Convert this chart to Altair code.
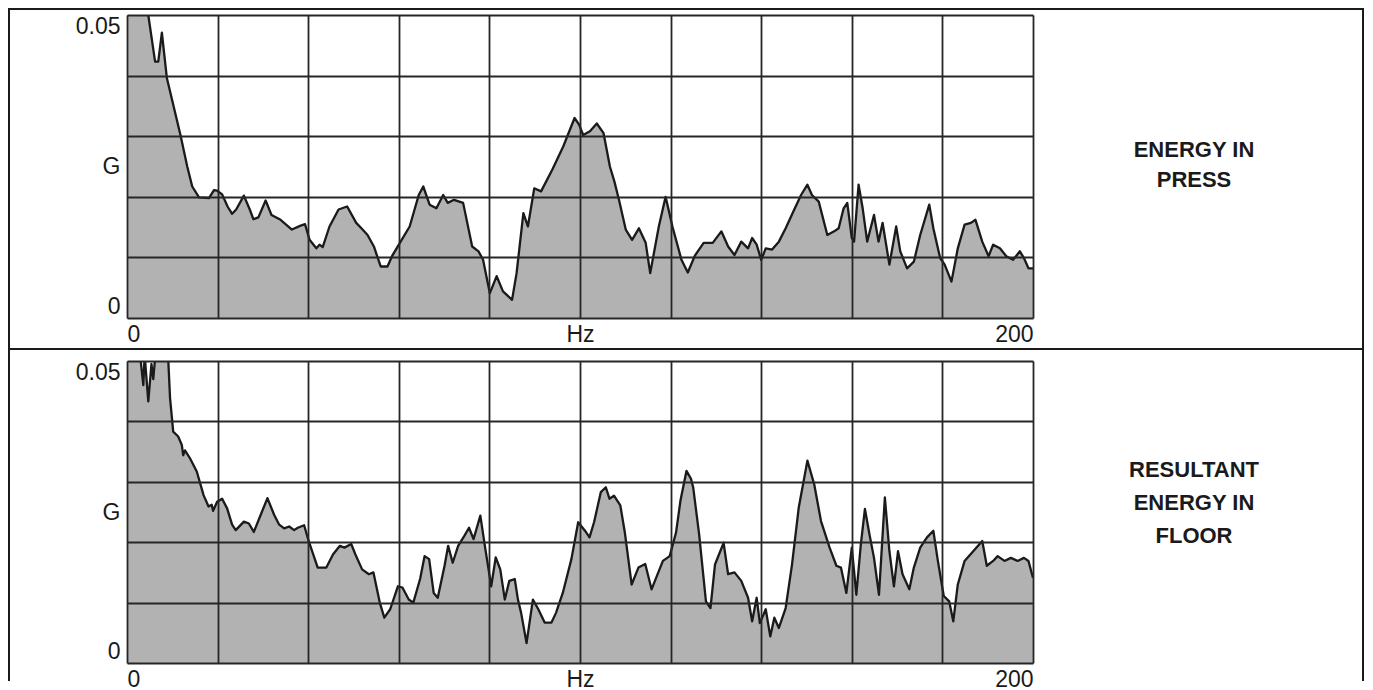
import altair as alt
import pandas as pd

# ---------------- data ----------------
hz_press = [0, 2, 4, 4.7, 5.5, 6.2, 6.9, 7.7, 8.4, 8.8, 10.3, 11.8, 13.3, 14.4, 15.9, 18.1,
            19.2, 19.9, 21.0, 22.2, 23.2, 24.1, 25.8, 27.1, 27.9, 29.0, 30.6, 31.9, 33.9,
            36.4, 38.2, 39.3, 40.3, 41.8, 42.5, 43.2, 44.7, 46.7, 48.6, 50.6, 52.0, 53.1,
            54.5, 56.0, 57.5, 58.5, 60.4, 62.4, 64.4, 65.4, 66.8, 68.3, 69.8, 70.8, 72.2,
            74.2, 76.2, 77.6, 78.6, 80.1, 81.6, 83.0, 85.0, 86.0, 87.5, 88.5, 89.9, 91.4,
            93.9, 96.3, 98.8, 99.8, 100.7, 102.2, 103.7, 105.2, 106.6, 107.6, 108.6, 110.1,
            111.5, 113.0, 114.5, 115.5, 117.4, 118.9, 120.4, 122.4, 123.8, 125.3, 126.0,
            127.3, 129.3, 131.2, 132.7, 134.1, 135.6, 137.1, 138.0, 139.0, 140.0, 141.0,
            142.4, 143.9, 145.4, 147.3, 148.8, 150.2, 151.2, 152.7, 154.6, 156.1, 157.1,
            158.2, 159.0, 160.0, 160.5, 161.5, 162.4, 163.4, 164.9, 165.9, 166.8, 168.3,
            169.8, 170.7, 172.2, 173.7, 175.1, 177.1, 178.0, 179.5, 180.5, 182.0, 183.4,
            184.9, 186.3, 187.3, 188.8, 190.2, 191.2, 192.7, 194.1, 195.6, 197.1, 198.0,
            199.0, 200.0]
g_press = [0.075, 0.066, 0.056, 0.050, 0.0459, 0.0423, 0.0423, 0.0471, 0.0423, 0.0396, 0.0349,
           0.0302, 0.0250, 0.0217, 0.0199, 0.0198, 0.0211, 0.0210, 0.0204, 0.0184, 0.0172,
           0.0179, 0.0202, 0.0179, 0.0163, 0.0166, 0.0194, 0.0170, 0.0162, 0.0146, 0.0152,
           0.0155, 0.0129, 0.0115, 0.0121, 0.0117, 0.0151, 0.0179, 0.0184, 0.0157, 0.0146,
           0.0137, 0.0118, 0.0085, 0.0085, 0.0102, 0.0126, 0.0151, 0.0203, 0.0217, 0.0187,
           0.0181, 0.0203, 0.0190, 0.0195, 0.0190, 0.0118, 0.0110, 0.0096, 0.0041, 0.0069,
           0.0044, 0.0030, 0.0074, 0.0173, 0.0151, 0.0214, 0.0209, 0.0245, 0.0283, 0.0330,
           0.0319, 0.0302, 0.0308, 0.0321, 0.0305, 0.0250, 0.0225, 0.0195, 0.0146, 0.0129,
           0.0148, 0.0124, 0.0074, 0.0151, 0.0200, 0.0151, 0.0096, 0.0075, 0.0102, 0.0110,
           0.0124, 0.0124, 0.0143, 0.0118, 0.0104, 0.0126, 0.0115, 0.0132, 0.0121, 0.0096,
           0.0115, 0.0113, 0.0126, 0.0148, 0.0179, 0.0203, 0.0220, 0.0203, 0.0192, 0.0137,
           0.0143, 0.0148, 0.0181, 0.0190, 0.0132, 0.0126, 0.0220, 0.0181, 0.0126, 0.0170,
           0.0126, 0.0157, 0.0088, 0.0151, 0.0110, 0.0082, 0.0093, 0.0137, 0.0187, 0.0148,
           0.0099, 0.0088, 0.0060, 0.0115, 0.0154, 0.0157, 0.0162, 0.0126, 0.0102, 0.0121,
           0.0115, 0.0102, 0.0096, 0.0110, 0.0099, 0.0082, 0.0082]

hz_floor = [0, 1.5, 2.6, 3.6, 3.9, 4.7, 5.4, 5.8, 6.6, 7.8, 9.0, 9.5, 10.2, 11.3, 12.1, 12.4,
            12.8, 13.9, 15.4, 16.9, 18.0, 18.7, 19.0, 19.9, 21.0, 22.1, 23.2, 24.0, 25.8,
            26.9, 28.0, 29.5, 31.0, 32.5, 33.6, 34.7, 35.8, 36.9, 37.7, 39.1, 40.1, 42.1,
            44.0, 45.5, 47.0, 48.0, 49.5, 50.4, 51.9, 53.4, 54.4, 55.8, 56.8, 58.1, 59.8,
            60.8, 62.2, 63.2, 64.7, 65.7, 66.7, 67.7, 68.6, 70.1, 70.9, 71.9, 73.1, 74.5,
            75.5, 76.5, 78.0, 79.0, 80.4, 81.4, 82.4, 83.4, 84.4, 85.6, 86.3, 87.0, 88.2,
            89.6, 90.8, 92.2, 93.7, 94.7, 96.2, 98.1, 99.6, 101.1, 102.1, 103.1, 104.6,
            105.7, 106.5, 107.5, 108.9, 109.9, 111.4, 112.9, 114.4, 115.8, 116.8, 118.3,
            119.8, 121.2, 122.2, 123.5, 124.5, 125.0, 126.3, 127.8, 128.8, 129.8, 130.7,
            131.7, 132.7, 134.1, 135.6, 137.1, 138.0, 139.0, 139.7, 141.0, 142.0, 142.9,
            143.9, 145.4, 146.8, 148.3, 150.2, 151.7, 153.2, 155.1, 156.6, 157.6, 158.8,
            160.0, 161.0, 162.0, 162.9, 163.9, 164.9, 166.0, 167.3, 168.3, 169.3, 170.2,
            171.2, 172.7, 173.7, 175.1, 176.6, 178.0, 179.0, 180.3, 181.5, 182.4, 183.4,
            184.9, 186.8, 188.8, 189.8, 191.2, 192.2, 193.7, 195.1, 196.6, 198.0, 199.0,
            200.0]
g_floor = [0.070, 0.064, 0.053, 0.046, 0.051, 0.0433, 0.0495, 0.047, 0.054, 0.058, 0.052,
           0.0439, 0.0383, 0.0375, 0.0361, 0.0344, 0.0352, 0.0339, 0.0317, 0.0278, 0.0259,
           0.0262, 0.0252, 0.0267, 0.0272, 0.0256, 0.0229, 0.0220, 0.0234, 0.0231, 0.0217,
           0.0245, 0.0273, 0.0245, 0.0229, 0.0223, 0.0226, 0.0220, 0.0224, 0.0228, 0.0202,
           0.0158, 0.0158, 0.0180, 0.0194, 0.0191, 0.0197, 0.0180, 0.0155, 0.0147, 0.0150,
           0.0100, 0.0075, 0.0089, 0.0127, 0.0125, 0.0105, 0.0100, 0.0139, 0.0177, 0.0172,
           0.0116, 0.0108, 0.0161, 0.0194, 0.0166, 0.0194, 0.0211, 0.0224, 0.0205, 0.0244,
           0.0194, 0.0127, 0.0175, 0.0155, 0.0105, 0.0136, 0.0139, 0.0105, 0.0083, 0.0033,
           0.0105, 0.0089, 0.0067, 0.0067, 0.0083, 0.0116, 0.0172, 0.0233, 0.0219, 0.0208,
           0.0233, 0.0283, 0.0291, 0.0272, 0.0277, 0.0261, 0.0216, 0.0130, 0.0158, 0.0164,
           0.0122, 0.0141, 0.0169, 0.0177, 0.0216, 0.0270, 0.0318, 0.0305, 0.0290, 0.0213,
           0.0102, 0.0091, 0.0163, 0.0180, 0.0199, 0.0147, 0.0150, 0.0136, 0.0108, 0.0069,
           0.0108, 0.0066, 0.0089, 0.0044, 0.0075, 0.0058, 0.0091, 0.0163, 0.0258, 0.0335,
           0.0296, 0.0235, 0.0191, 0.0161, 0.0158, 0.0116, 0.0191, 0.0113, 0.0197, 0.0255,
           0.0213, 0.0174, 0.0113, 0.0274, 0.0185, 0.0127, 0.0185, 0.0147, 0.0122, 0.0158,
           0.0191, 0.0208, 0.0219, 0.0169, 0.0111, 0.0102, 0.0069, 0.0130, 0.0169, 0.0185,
           0.0202, 0.0161, 0.0169, 0.0177, 0.0169, 0.0174, 0.0169, 0.0174, 0.0169, 0.0141]

x_ticks = [0, 20, 40, 60, 80, 100, 120, 140, 160, 180, 200]
y_ticks = [0, 0.01, 0.02, 0.025, 0.03, 0.04, 0.05]
x_labels = {0: "0", 100: "Hz", 200: "200"}
y_labels = {0: "0", 0.025: "G", 0.05: "0.05"}

press_lines = ["ENERGY IN", "PRESS"]
floor_lines = ["RESULTANT", "ENERGY IN", "FLOOR"]

# ---------------- styling ----------------
FONT = "Liberation Sans"
INK = "#1a1a1a"
GRID = "#262626"
FILL = "#b2b2b2"
W = 906

x_expr = " : ".join(f"datum.value == {k} ? '{v}'" for k, v in x_labels.items()) + " : ''"
y_expr = " : ".join(f"abs(datum.value - {k}) < 1e-6 ? '{v}'" for k, v in y_labels.items()) + " : ''"


def enc_x():
    return alt.X("hz:Q", scale=alt.Scale(domain=[0, 200], nice=False, zero=False),
                 axis=alt.Axis(values=x_ticks, labelExpr=x_expr, grid=True, ticks=False,
                               domain=False, labelFlush=True, labelOverlap=False,
                               labelPadding=5, labelFontSize=23, labelFont=FONT,
                               labelColor=INK, gridColor=GRID, gridWidth=1.8,
                               gridOpacity=1, title=None, zindex=1))


def enc_y():
    return alt.Y("g:Q", scale=alt.Scale(domain=[0, 0.05], nice=False, zero=True),
                 axis=alt.Axis(values=y_ticks, labelExpr=y_expr, grid=True, ticks=False,
                               domain=False, labelFlush=True, labelOverlap=False,
                               labelPadding=7, labelFontSize=23, labelFont=FONT,
                               labelColor=INK, gridColor=GRID, gridWidth=1.8,
                               gridOpacity={"condition": {"test": "abs(datum.value - 0.025) < 1e-6",
                                                          "value": 0}, "value": 1},
                               title=None, zindex=1))


def panel(hz, g, lines, h, line_h, text_y, frame):
    df = pd.DataFrame({"hz": hz, "g": g})
    base = alt.Chart(df)
    area = base.mark_area(color=FILL, opacity=1, clip=True).encode(x=enc_x(), y=enc_y())
    line = base.mark_line(color=INK, strokeWidth=2.3, clip=True,
                          strokeJoin="round").encode(x=enc_x(), y=enc_y())
    txt = alt.Chart(alt.Data(values=[{"t": "\n".join(lines)}])).mark_text(
        font=FONT, fontSize=22, fontWeight="bold", color=INK, align="center",
        baseline="middle", lineBreak="\n", lineHeight=line_h
    ).encode(text="t:N", x=alt.value(1067), y=alt.value(text_y))
    layers = [area, line, txt] + frame
    return alt.layer(*layers).properties(width=W, height=h)


one = alt.Data(values=[{}])
top_frame = [
    alt.Chart(one).mark_rect(filled=False, stroke=INK, strokeWidth=2).encode(
        x=alt.value(-118), x2=alt.value(1236), y=alt.value(-6), y2=alt.value(334))
]
bottom_frame = [
    alt.Chart(one).mark_rule(color=INK, strokeWidth=2).encode(
        x=alt.value(-118), y=alt.value(-12), y2=alt.value(320)),
    alt.Chart(one).mark_rule(color=INK, strokeWidth=2).encode(
        x=alt.value(1236), y=alt.value(-12), y2=alt.value(320)),
]

top = panel(hz_press, g_press, press_lines, 303, 30, 135, top_frame)
bottom = panel(hz_floor, g_floor, floor_lines, 302, 33, 109, bottom_frame)

chart = alt.vconcat(top, bottom, spacing=43, bounds="flush").properties(
    padding=0, background="#ffffff"
).configure_view(stroke=None)

chart.save("out.html", embed_options={"renderer": "svg", "actions": False})
